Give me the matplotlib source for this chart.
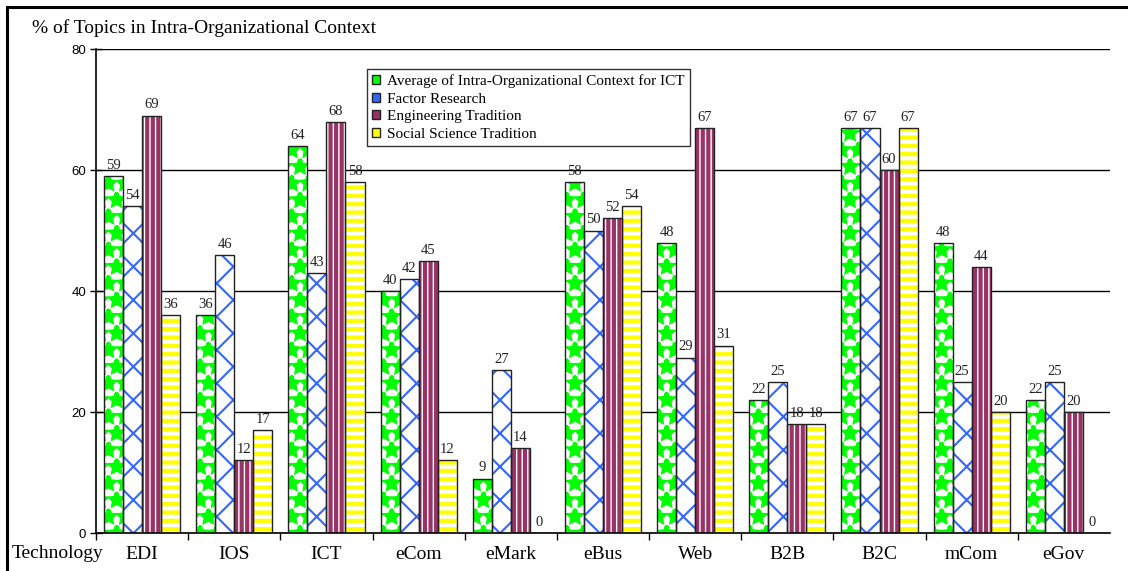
import numpy as np
import matplotlib as mpl
import matplotlib.pyplot as plt
from matplotlib.patches import Rectangle


#%% Datos
tecnologias = ["EDI", "IOS", "ICT", "eCom", "eMark", "eBus", "Web", "B2B", "B2C", "mCom", "eGov"]
series = ["Average of Intra-Organizational Context for ICT", "Factor Research",
          "Engineering Tradition", "Social Science Tradition"]

promedio = [59, 36, 64, 40, 9, 58, 48, 22, 67, 48, 22]
factor = [54, 46, 43, 42, 27, 50, 29, 25, 67, 25, 25]
ingenieria = [69, 12, 68, 45, 14, 52, 67, 18, 60, 44, 20]
social = [36, 17, 58, 12, 0, 54, 31, 18, 67, 20, 0]

valores = [promedio, factor, ingenieria, social]
colores = ["#00ff00", "#3366ff", "#993366", "#ffff00"]
tramas = ["*", "x", "|||", "--"]
grosor_trama = [3.0, 1.5, 3.0, 3.0]


#%% Grafico
serif = ["Liberation Serif", "DejaVu Serif"]
plt.rcParams["font.family"] = serif

fig = plt.figure(figsize=(11.28, 5.71), dpi=100)
ax = fig.add_axes([0.0851, 0.0665, 0.8989, 0.8475])

x = np.arange(len(tecnologias))
ancho = 0.2065

for i in range(len(valores)):
    pos = x + (i - 1.5) * ancho
    with mpl.rc_context({"hatch.linewidth": grosor_trama[i]}):
        barras = ax.bar(pos, valores[i], ancho, color="white", edgecolor=colores[i],
                        hatch=tramas[i], linewidth=0, zorder=2)
    for b in barras:
        if hasattr(b, "set_hatch_linewidth"):
            b.set_hatch_linewidth(grosor_trama[i])
    ax.bar(pos, valores[i], ancho, color="none", edgecolor="#222222", linewidth=1.0, zorder=3)
    for xi, v in zip(pos, valores[i]):
        ax.annotate(str(v), (xi, v), xytext=(0, 3), textcoords="offset points",
                    ha="center", va="bottom", fontsize=10.5, color="#222222", zorder=4)

ax.set_xlim(-0.5, len(tecnologias) - 0.5)
ax.set_ylim(0, 80)
ax.set_yticks([0, 20, 40, 60, 80])
ax.set_yticklabels(["0", "20", "40", "60", "80"], family="Liberation Sans", fontsize=9.5)
ax.tick_params(axis="y", direction="inout", length=8, width=1, pad=3)
ax.grid(axis="y", color="black", linewidth=1.0, zorder=0)
ax.set_axisbelow(True)

ax.set_xticks(x - 0.5)
ax.set_xticks(x, minor=True)
ax.set_xticklabels([])
ax.set_xticklabels(tecnologias, minor=True, fontsize=14)
ax.tick_params(axis="x", which="major", direction="out", length=5, width=1)
ax.tick_params(axis="x", which="minor", length=0, pad=9)

for lado in ["top", "right"]:
    ax.spines[lado].set_visible(False)
for lado in ["left", "bottom"]:
    ax.spines[lado].set_linewidth(1.2)

handles = [Rectangle((0, 0), 1, 1, facecolor=c, edgecolor="#222222", linewidth=1.0)
           for c in colores]
leg = ax.legend(handles, series, loc="upper left", bbox_to_anchor=(0.267, 0.959),
                borderaxespad=0, fontsize=11, frameon=True, fancybox=False,
                handlelength=0.5, handleheight=0.5, handletextpad=0.5,
                labelspacing=0.3, borderpad=0.35)
leg.get_frame().set_edgecolor("black")
leg.get_frame().set_linewidth(1.0)

fig.text(32 / 1128, 1 - 28 / 571, "% of Topics in Intra-Organizational Context",
         fontsize=14, va="center", ha="left")
fig.text(12 / 1128, 1 - 554 / 571, "Technology", fontsize=14, va="center", ha="left")

# marco de la figura
fig.add_artist(Rectangle((7 / 1128, -0.05), 1.1, 1 - 7 / 571 + 0.05,
                         transform=fig.transFigure, fill=False,
                         edgecolor="black", linewidth=2.2))

fig.savefig("out.png", dpi=100)
